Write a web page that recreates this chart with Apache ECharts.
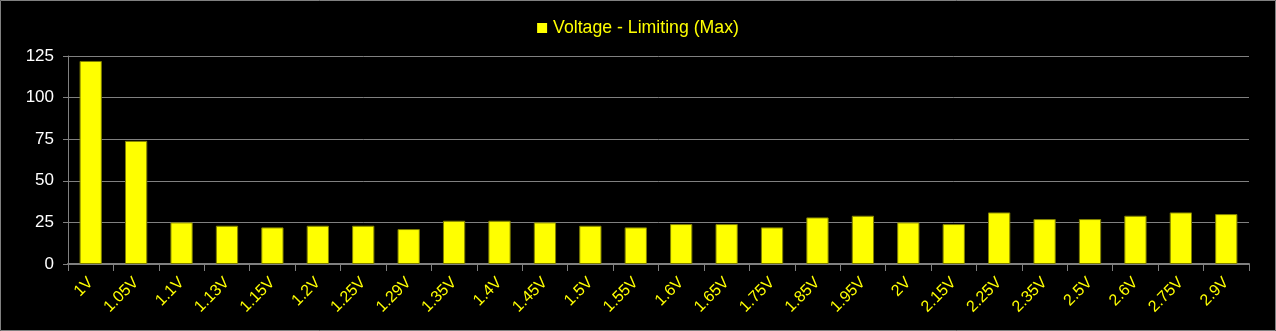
<!DOCTYPE html>
<html><head><meta charset="utf-8">
<script src="https://cdn.jsdelivr.net/npm/echarts@6/dist/echarts.min.js"></script>
<style>html,body{margin:0;padding:0;background:#000;}#c{width:1276px;height:331px;}</style>
</head><body><div id="c"></div>
<script>
var categories = ["1V","1.05V","1.1V","1.13V","1.15V","1.2V","1.25V","1.29V","1.35V","1.4V","1.45V","1.5V","1.55V","1.6V","1.65V","1.75V","1.85V","1.95V","2V","2.15V","2.25V","2.35V","2.5V","2.6V","2.75V","2.9V"];
var values = [122,74,25,23,22,23,23,21,26,26,25,23,22,24,24,22,28,29,25,24,31,27,27,29,31,30];
var yTicks = [0,25,50,75,100,125];
var seriesName = "Voltage - Limiting (Max)";

var FONT = 'Liberation Sans, Arial, sans-serif';
var chart = echarts.init(document.getElementById('c'), null, {renderer:'canvas'});
chart.setOption({
  backgroundColor:'#000',
  animation:false,
  graphic:[{type:'rect',shape:{x:0.5,y:0.5,width:1275,height:330},style:{fill:'none',stroke:'#808080',lineWidth:1},silent:true}],
  legend:{
    top:14,left:'center',itemWidth:10,itemHeight:10,itemGap:6,
    icon:'rect',
    itemStyle:{borderWidth:0,color:'#ffff00'},
    textStyle:{color:'#ffff00',fontSize:17.7,fontFamily:FONT,padding:[0,0,0,1]},
    data:[seriesName]
  },
  grid:{left:68,right:27,top:56,bottom:67,containLabel:false},
  xAxis:{
    type:'category',data:categories,
    axisLine:{lineStyle:{color:'#808080',width:2}},
    axisTick:{show:true,alignWithLabel:false,length:7,lineStyle:{color:'#808080',width:1}},
    axisLabel:{rotate:45,color:'#ffff00',fontSize:16,margin:16,interval:0,fontFamily:FONT},
    splitLine:{show:false}
  },
  yAxis:{
    type:'value',min:yTicks[0],max:yTicks[yTicks.length-1],interval:25,
    axisLine:{show:true,lineStyle:{color:'#808080',width:1}},
    axisTick:{show:true,length:5,lineStyle:{color:'#808080'}},
    axisLabel:{color:'#ffffff',fontSize:17,margin:14,fontFamily:FONT},
    splitLine:{show:true,lineStyle:{color:'#808080',width:1}}
  },
  series:[{
    name:seriesName,type:'bar',data:values,barWidth:'49%',
    itemStyle:{color:'#ffff00',borderColor:'#808000',borderWidth:1}
  }]
});
</script></body></html>
